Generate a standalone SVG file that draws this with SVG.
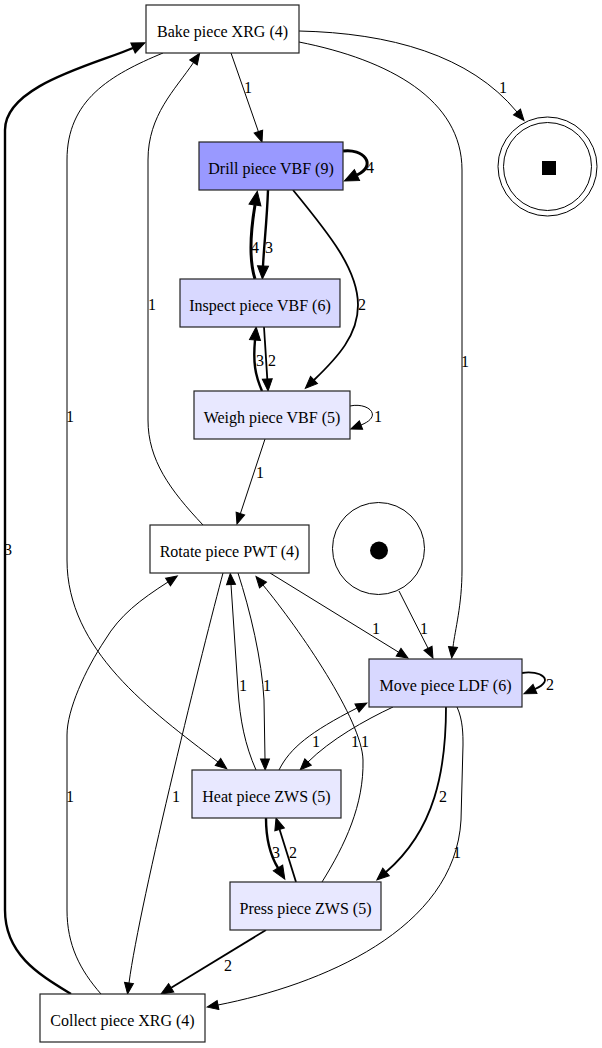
<svg xmlns="http://www.w3.org/2000/svg" width="602" height="1048" viewBox="0 0 602 1048">
<style>
text{font-family:"Liberation Serif","Times New Roman",serif;font-size:16px;fill:#000;text-anchor:middle}
.n{stroke:#222;stroke-width:1.2}
.e{fill:none;stroke:#000}
.w1{stroke-width:1}
.w2{stroke-width:1.8}
.w3{stroke-width:2.4}
.w4{stroke-width:3}
</style>
<defs>
<marker id="m1" markerUnits="userSpaceOnUse" orient="auto" refX="0" refY="0" markerWidth="12" markerHeight="10" overflow="visible"><path d="M0,-4.5 L11,0 L0,4.5 z" fill="#000" stroke="#000" stroke-width="1"/></marker>
<marker id="m2" markerUnits="userSpaceOnUse" orient="auto" refX="0" refY="0" markerWidth="13" markerHeight="11" overflow="visible"><path d="M0,-5 L12,0 L0,5 z" fill="#000" stroke="#000" stroke-width="1"/></marker>
<marker id="m3" markerUnits="userSpaceOnUse" orient="auto" refX="0" refY="0" markerWidth="14" markerHeight="12" overflow="visible"><path d="M0,-5.5 L13,0 L0,5.5 z" fill="#000" stroke="#000" stroke-width="1"/></marker>
<marker id="m4" markerUnits="userSpaceOnUse" orient="auto" refX="0" refY="0" markerWidth="15" markerHeight="13" overflow="visible"><path d="M0,-6 L14,0 L0,6 z" fill="#000" stroke="#000" stroke-width="1"/></marker>
</defs>
<rect width="602" height="1048" fill="#fff"/>
<g id="connectors">
<path class="e w1" marker-end="url(#m1)" d="M231,53 L258.4,131.6"/>
<path class="e w1" marker-end="url(#m1)" d="M299,31 C390,33 470,55 517,112"/>
<path class="e w1" marker-end="url(#m1)" d="M299,42 C390,60 462,100 462,170 L462,570 C462,605 455,630 453,647"/>
<path class="e w1" marker-end="url(#m1)" d="M163,53 C110,75 67,100 67,160 L67,560 C67,650 150,710 218,762"/>
<path class="e w1" marker-end="url(#m1)" d="M203,525 C170,490 148,460 148,420 L148,160 C148,115 175,90 193.5,62.5"/>
<path class="e w3" marker-end="url(#m3)" d="M71,994 C40,975 5,955 5,910 L5,130 C5,85 96,64 133,48"/>
<path class="e w4" marker-end="url(#m4)" d="M343,151 C363,148 378,165 357,175"/>
<path class="e w3" marker-end="url(#m3)" d="M268,190 C267,220 264,245 263,266"/>
<path class="e w4" marker-end="url(#m4)" d="M255,279 C249,260 250,235 255,205"/>
<path class="e w2" marker-end="url(#m2)" d="M293,190 C330,235 358,270 358,305 C358,335 338,357 314,380"/>
<path class="e w2" marker-end="url(#m2)" d="M264,327 L267.3,379"/>
<path class="e w3" marker-end="url(#m3)" d="M262,391 C255,375 253,362 255,340"/>
<path class="e w1" marker-end="url(#m1)" d="M350,406 C368,402 384,416 361,425"/>
<path class="e w1" marker-end="url(#m1)" d="M265,439 L240.4,513.6"/>
<path class="e w1" marker-end="url(#m1)" d="M270,573 L398.6,652.2"/>
<path class="e w1" marker-end="url(#m1)" d="M399,591 L428,648.2"/>
<path class="e w2" marker-end="url(#m2)" d="M522,673 C540,670 556,680 535,689"/>
<path class="e w1" marker-end="url(#m1)" d="M238,573 C250,610 262,660 264,700 L265,759"/>
<path class="e w1" marker-end="url(#m1)" d="M256,770 C245,745 240,720 238,690 L231,584.5"/>
<path class="e w1" marker-end="url(#m1)" d="M322,882 C345,845 364,805 363,760 C362,720 300,630 263,585"/>
<path class="e w1" marker-end="url(#m1)" d="M393,707 C365,720 330,740 308,762"/>
<path class="e w1" marker-end="url(#m1)" d="M279,770 C290,748 310,732 357,708"/>
<path class="e w2" marker-end="url(#m2)" d="M446,707 C446,770 435,830 386,872"/>
<path class="e w1" marker-end="url(#m1)" d="M457,707 C463,720 463,735 463,745 L461,820 C455,930 320,985 218,1005"/>
<path class="e w3" marker-end="url(#m3)" d="M266,818 C266,840 270,855 278,868"/>
<path class="e w2" marker-end="url(#m2)" d="M296,882 L279.6,829.4"/>
<path class="e w2" marker-end="url(#m2)" d="M266,930 L171.2,987.8"/>
<path class="e w1" marker-end="url(#m1)" d="M223,573 C205,640 140,900 129,983"/>
<path class="e w1" marker-end="url(#m1)" d="M101,994 C80,970 67,945 67,910 L67,735 C67,710 85,670 105,640 C120,615 140,600 168,582"/>
<text x="248" y="93">1</text>
<text x="503" y="93">1</text>
<text x="465" y="367">1</text>
<text x="70" y="422">1</text>
<text x="152" y="310">1</text>
<text x="8" y="555">3</text>
<text x="370" y="173">4</text>
<text x="269" y="253">3</text>
<text x="255" y="253">4</text>
<text x="362" y="310">2</text>
<text x="272" y="366">2</text>
<text x="260" y="366">3</text>
<text x="378" y="422">1</text>
<text x="260" y="478">1</text>
<text x="376" y="634">1</text>
<text x="424" y="634">1</text>
<text x="550" y="690">2</text>
<text x="267" y="691">1</text>
<text x="243" y="691">1</text>
<text x="316" y="747">1</text>
<text x="355" y="747">1</text>
<text x="365" y="747">1</text>
<text x="443" y="802">2</text>
<text x="457" y="858">1</text>
<text x="276" y="858">3</text>
<text x="293" y="858">2</text>
<text x="228" y="971">2</text>
<text x="176" y="802">1</text>
<text x="70" y="802">1</text>
</g>
<g id="bake"><rect class="n" x="146" y="5" width="153" height="48" fill="#fff"/><text x="222.5" y="37">Bake piece XRG (4)</text></g>
<g id="drill"><rect class="n" x="199" y="142" width="144" height="48" fill="#9999ff"/><text x="271" y="174">Drill piece VBF (9)</text></g>
<g id="inspect"><rect class="n" x="180" y="279" width="160" height="48" fill="#d8d8ff"/><text x="260" y="311">Inspect piece VBF (6)</text></g>
<g id="weigh"><rect class="n" x="194" y="391" width="156" height="48" fill="#e8e8ff"/><text x="272" y="423">Weigh piece VBF (5)</text></g>
<g id="rotate"><rect class="n" x="150" y="525" width="159" height="48" fill="#fff"/><text x="229.5" y="557">Rotate piece PWT (4)</text></g>
<g id="move"><rect class="n" x="369" y="659" width="153" height="48" fill="#d8d8ff"/><text x="445.5" y="691">Move piece LDF (6)</text></g>
<g id="heat"><rect class="n" x="192" y="770" width="149" height="48" fill="#e8e8ff"/><text x="266.5" y="802">Heat piece ZWS (5)</text></g>
<g id="press"><rect class="n" x="230" y="882" width="151" height="48" fill="#e8e8ff"/><text x="305.5" y="914">Press piece ZWS (5)</text></g>
<g id="collect"><rect class="n" x="40" y="994" width="165" height="48" fill="#fff"/><text x="122.5" y="1026">Collect piece XRG (4)</text></g>
<g id="start"><circle cx="378.5" cy="548.5" r="46" fill="#fff" stroke="#000" stroke-width="1"/><circle cx="379" cy="550.5" r="9" fill="#000"/></g>
<g id="end"><circle cx="547.5" cy="166.5" r="49.5" fill="#fff" stroke="#000" stroke-width="1"/><circle cx="547.5" cy="166.5" r="44" fill="none" stroke="#000" stroke-width="1"/><rect x="542" y="161" width="14" height="14" fill="#000"/></g>
</svg>
